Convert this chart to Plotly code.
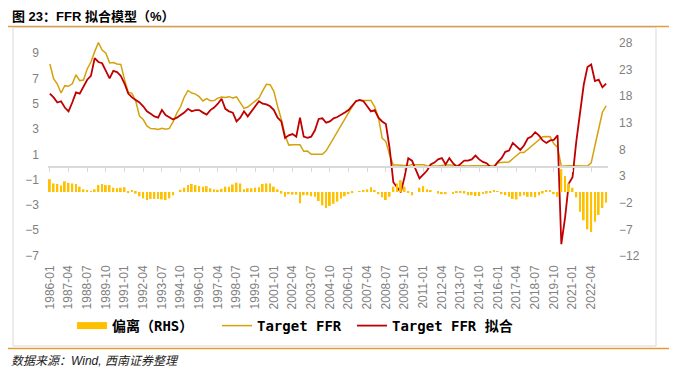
import plotly.graph_objects as go

# ---- data (quarterly) ----
years = list(range(1986, 2024))
months = ["01", "04", "07", "10"]
categories = [f"{y}-{m}" for y in years for m in months][:150]

target_ffr = [
    8.14, 6.99, 6.56, 5.85, 6.43, 6.38, 6.58, 7.29, 6.83, 6.87, 7.75, 8.30,
    9.12, 9.84, 9.24, 8.99, 8.23, 8.26, 8.15, 8.11, 6.91, 5.91, 5.82, 5.21,
    4.03, 3.75, 3.25, 3.04, 3.02, 2.96, 3.06, 2.99, 3.05, 3.56, 4.26, 4.76,
    5.53, 6.05, 5.85, 5.76, 5.56, 5.22, 5.40, 5.24, 5.25, 5.45, 5.54, 5.50,
    5.56, 5.45, 5.54, 5.07, 4.63, 4.74, 4.99, 5.20, 5.45, 6.02, 6.54, 6.51,
    5.98, 4.80, 3.77, 2.49, 1.73, 1.75, 1.73, 1.75, 1.24, 1.26, 1.01, 1.01,
    1.00, 1.00, 1.28, 1.76, 2.28, 2.79, 3.26, 3.78, 4.29, 4.79, 5.24, 5.25,
    5.25, 5.26, 5.26, 4.76, 3.94, 2.28, 2.01, 0.97, 0.15, 0.15, 0.16, 0.12,
    0.11, 0.20, 0.18, 0.19, 0.17, 0.10, 0.07, 0.07, 0.08, 0.14, 0.16, 0.16,
    0.14, 0.15, 0.09, 0.09, 0.07, 0.09, 0.09, 0.09, 0.11, 0.12, 0.13, 0.12,
    0.34, 0.37, 0.39, 0.40, 0.65, 0.90, 1.15, 1.15, 1.41, 1.69, 1.91, 2.19,
    2.40, 2.42, 2.40, 1.83, 1.55, 0.05, 0.09, 0.09, 0.09, 0.07, 0.10, 0.08,
    0.08, 0.33, 1.68, 3.08, 4.33, 4.83,
]

fitted_ffr = [
    5.8, 5.5, 5.1, 5.2, 4.7, 4.4, 5.1, 5.9, 5.8, 6.4, 6.9, 7.2,
    8.6, 8.3, 8.2, 7.6, 7.0, 7.6, 7.5, 7.2, 6.6, 5.8, 5.5, 5.3,
    5.1, 4.8, 4.4, 4.2, 4.0, 3.9, 4.5, 4.1, 3.9, 3.75, 3.9, 4.1,
    4.3, 4.6, 4.4, 4.5, 4.5, 4.3, 4.15, 4.5, 4.7, 5.0, 5.4, 4.6,
    4.4, 4.3, 3.6, 3.9, 4.4, 4.0, 4.4, 4.8, 5.2, 5.0, 4.95, 4.8,
    4.5, 3.9, 3.6, 2.3, 2.5, 2.6, 2.4, 3.9, 2.4, 2.3, 2.4, 2.9,
    3.8, 3.85, 3.5, 3.6, 3.85, 3.95, 4.1, 4.3, 4.5, 4.85, 5.2, 5.3,
    5.2, 4.8, 4.4, 4.5, 3.9, 3.6, 3.4, 1.5, -1.2, -1.6, -2.0, -0.8,
    0.7, 0.5, -0.2, -0.9, -0.6, -0.3, 0.2, 0.35, 0.6, 0.7, 0.2, 0.7,
    0.3, 0.0, 0.25, 0.5, 0.5, 0.6, 0.9, 0.6, 0.4, 0.3, 0.0, 0.0,
    0.4, 0.7, 1.2, 1.3, 1.9, 1.6, 1.35, 1.7, 2.25, 2.4, 2.75, 2.5,
    2.1, 1.9, 2.1, 2.15, 2.5, -6.1, -4.0, -1.3, -0.8, 2.0, 4.5, 6.5,
    7.9, 8.1, 6.8, 6.9, 6.3, 6.6,
]

deviation = [
    2.4, 1.6, 1.5, 1.2, 2.0, 1.7, 1.6, 1.5, 1.0, 0.5, 0.3, 0.1,
    0.5, 1.3, 1.5, 1.3, 1.3, 0.8, 0.7, 0.8, 0.9, -0.1, 0.2, -0.3,
    -0.8, -1.2, -1.5, -1.3, -1.3, -1.3, -1.4, -1.5, -1.2, -0.6, 0.0, 0.4,
    0.8, 1.3, 1.5, 1.3, 1.1, 1.0, 1.1, 0.7, 0.5, 0.4, 0.6, 1.0,
    1.0, 1.4, 1.75, 1.6, 0.5, 0.7, 0.7, 0.8, 0.9, 1.5, 1.6, 1.6,
    1.0, 0.5, -0.3, -0.9, -0.4, -0.5, -0.5, -2.1, -0.6, -0.6, -0.8, -0.9,
    -1.7, -2.5, -3.0, -2.6, -2.2, -1.8, -1.2, -0.8, -0.4, -0.2, 0.0, 0.1,
    0.3, 0.5, 0.9, 0.2, -0.4, -1.0, -1.5, -0.9, 1.0, 1.6, 2.2, 1.0,
    -0.1, -0.6, 0.0, 0.8, 1.1, 0.5, 0.2, 0.0, -0.3, -0.4, -0.4, 0.0,
    -0.4, -0.1, -0.2, -0.3, -0.6, -0.6, -0.75, -0.75, -0.4, -0.3, -0.1, 0.2,
    0.1, -0.4, -0.6, -0.9, -1.3, -1.4, -0.8, -0.6, -0.9, -0.9, -1.0, -0.6,
    -0.3, 0.2, 0.3, -0.4, -0.9, 4.3, 3.0, 1.6, 0.8, -1.0, -3.7, -5.3,
    -7.0, -7.5, -5.6, -4.3, -3.0, -2.0,
]

left_ticks = [-7, -5, -3, -1, 1, 3, 5, 7, 9]
right_ticks = [-12, -7, -2, 3, 8, 13, 18, 23, 28]
tick_labels = categories[::5]

# ---- layout geometry (pixels; page body has an 8px margin) ----
OFF = 8
W, H = 677 - OFF, 375 - OFF
L, T = 48 - OFF, 30 - OFF
PW, PH = 560, 232
R, B = W - L - PW, H - T - PH
y_left = [-7.51, 10.83]
y_right = [-13.13, 30.38]


def px(s):
    return (s - OFF - L) / PW


def py(s):
    return (H - B - (s - OFF)) / PH


def cx(s):
    return (s - OFF) / W


def cy(s):
    return 1 - (s - OFF) / H


zero_pos = (0 - y_left[0]) / (y_left[1] - y_left[0])

GOLD_BAR = "#FFC000"
GOLD_LINE = "#D4A20C"
RED = "#C00000"
GRAY = "#D9D9D9"
ORANGE = "#E69B3A"
TICKC = "#7F7F7F"

fig = go.Figure()
fig.add_trace(go.Bar(x=categories, y=deviation, yaxis="y2", marker_color=GOLD_BAR,
                     marker_line_width=0, width=0.5, showlegend=False, name="偏离（RHS）"))
fig.add_trace(go.Scatter(x=[None], y=[None], mode="lines", name="偏离（RHS）",
                         line=dict(color=GOLD_BAR, width=7), legend="legend"))
fig.add_trace(go.Scatter(x=categories, y=target_ffr, mode="lines", name="Target FFR",
                         line=dict(color=GOLD_LINE, width=1.5), legend="legend"))
fig.add_trace(go.Scatter(x=categories, y=fitted_ffr, mode="lines", name="Target FFR 拟合",
                         line=dict(color=RED, width=1.8), legend="legend2"))
# helper trace so the zero-crossing category axis is drawn
fig.add_trace(go.Scatter(x=categories, y=[None] * len(categories), xaxis="x2",
                         mode="lines", showlegend=False, hoverinfo="skip"))

tick_font = dict(family="Liberation Sans, Arial, sans-serif", size=12, color=TICKC)
legend_font = dict(family="DejaVu Sans Mono, Noto Sans CJK SC", size=14,
                   color="#000000", weight="bold")

fig.update_layout(
    width=W, height=H,
    margin=dict(l=L, r=R, t=T, b=B, pad=0, autoexpand=False),
    paper_bgcolor="white", plot_bgcolor="white",
    xaxis=dict(type="category", categoryorder="array", categoryarray=categories,
               range=[-0.5, len(categories) - 0.5], automargin=False,
               tickmode="array", tickvals=tick_labels, ticktext=tick_labels,
               tickangle=-90, tickfont=tick_font, showline=False, showgrid=False,
               ticks="", zeroline=False),
    xaxis2=dict(type="category", categoryorder="array", categoryarray=categories,
                range=[-0.5, len(categories) - 0.5], overlaying="x", anchor="free",
                position=zero_pos, showline=True, linecolor=GRAY, linewidth=1.5,
                tickmode="array", tickvals=tick_labels, ticks="outside", ticklen=4,
                tickcolor=GRAY, showticklabels=False, showgrid=False, automargin=False),
    yaxis=dict(range=y_left, tickmode="array", tickvals=left_ticks, tickfont=tick_font,
               showgrid=False, zeroline=False, showline=False, ticks="",
               ticklabelstandoff=8, automargin=False),
    yaxis2=dict(range=y_right, overlaying="y", side="right", tickmode="array",
                tickvals=right_ticks, tickfont=tick_font, showgrid=False,
                zeroline=False, showline=False, ticks="", ticklabelstandoff=10,
                automargin=False),
    legend=dict(orientation="h", xref="container", yref="container",
                x=cx(72), y=cy(326), xanchor="left", yanchor="middle",
                font=legend_font, entrywidth=100, entrywidthmode="pixels",
                itemwidth=30, bgcolor="rgba(0,0,0,0)"),
    legend2=dict(orientation="h", xref="container", yref="container",
                 x=cx(352), y=cy(326), xanchor="left", yanchor="middle",
                 font=legend_font, itemwidth=30, bgcolor="rgba(0,0,0,0)"),
    shapes=[
        dict(type="line", xref="paper", yref="paper", x0=px(8), x1=px(669),
             y0=py(26.5), y1=py(26.5), line=dict(color=ORANGE, width=1.5)),
        dict(type="rect", xref="paper", yref="paper", x0=px(13), x1=px(656),
             y0=py(346), y1=py(27.5), line=dict(color=GRAY, width=1)),
        dict(type="line", xref="paper", yref="paper", x0=px(8), x1=px(669),
             y0=py(348.5), y1=py(348.5), line=dict(color=ORANGE, width=1.5)),
    ],
    annotations=[
        dict(text="<b>图 23：FFR 拟合模型（%）</b>", xref="paper", yref="paper",
             x=px(11), y=py(8), xanchor="left", yanchor="top", showarrow=False,
             borderpad=0,
             font=dict(family="Liberation Sans, Noto Sans CJK SC", size=13, color="#000000")),
        dict(text="<i>数据来源：Wind, 西南证券整理</i>", xref="paper", yref="paper",
             x=px(9), y=py(361), xanchor="left", yanchor="middle", showarrow=False,
             font=dict(family="Liberation Sans, Noto Sans CJK SC", size=12, color="#222222")),
    ],
)

fig.write_html("out.html")
